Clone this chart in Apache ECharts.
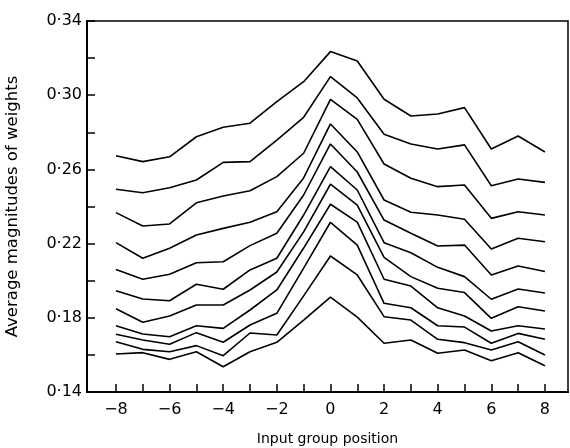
<!DOCTYPE html>
<html>
<head>
<meta charset="utf-8">
<script src="https://cdn.jsdelivr.net/npm/echarts@6/dist/echarts.min.js"></script>
<style>
html,body{margin:0;padding:0;background:#fff;}
#chart{width:570px;height:448px;}
</style>
</head>
<body>
<div id="chart"></div>
<script>
// Input group positions
var positions = [-8,-7,-6,-5,-4,-3,-2,-1,0,1,2,3,4,5,6,7,8];
// Even positions carry a label, every position carries a tick
var xTickValues = [-8,-7,-6,-5,-4,-3,-2,-1,0,1,2,3,4,5,6,7,8];
var xLabelValues = [-8,-6,-4,-2,0,2,4,6,8];
var yLabelValues = [0.14,0.18,0.22,0.26,0.30,0.34];

// Average magnitudes of weights, one curve per line (top to bottom)
var curve1  = [0.2674,0.2642,0.2668,0.2776,0.2827,0.2849,0.2965,0.3073,0.3235,0.3184,0.2978,0.2888,0.2899,0.2933,0.2710,0.2780,0.2694];
var curve2  = [0.2493,0.2474,0.2501,0.2543,0.2638,0.2642,0.2758,0.2881,0.3100,0.2985,0.2789,0.2737,0.2710,0.2732,0.2512,0.2548,0.2530];
var curve3  = [0.2367,0.2295,0.2306,0.2420,0.2457,0.2485,0.2561,0.2687,0.2978,0.2870,0.2629,0.2552,0.2507,0.2516,0.2336,0.2372,0.2354];
var curve4  = [0.2205,0.2121,0.2175,0.2246,0.2282,0.2315,0.2372,0.2554,0.2845,0.2694,0.2435,0.2369,0.2354,0.2331,0.2171,0.2229,0.2210];
var curve5  = [0.2061,0.2008,0.2035,0.2097,0.2102,0.2189,0.2256,0.2462,0.2737,0.2586,0.2327,0.2256,0.2187,0.2192,0.2031,0.2079,0.2050];
var curve6  = [0.1946,0.1901,0.1892,0.1981,0.1954,0.2058,0.2121,0.2354,0.2615,0.2489,0.2205,0.2151,0.2072,0.2022,0.1900,0.1955,0.1934];
var curve7  = [0.1849,0.1776,0.1810,0.1869,0.1869,0.1950,0.2047,0.2263,0.2520,0.2408,0.2126,0.2022,0.1959,0.1936,0.1797,0.1860,0.1837];
var curve8  = [0.1757,0.1713,0.1698,0.1757,0.1743,0.1842,0.1950,0.2176,0.2412,0.2316,0.2008,0.1971,0.1854,0.1810,0.1729,0.1757,0.1740];
var curve9  = [0.1711,0.1680,0.1657,0.1720,0.1668,0.1761,0.1824,0.2068,0.2315,0.2192,0.1878,0.1854,0.1757,0.1750,0.1663,0.1716,0.1684];
var curve10 = [0.1671,0.1630,0.1617,0.1650,0.1596,0.1718,0.1707,0.1918,0.2133,0.2031,0.1806,0.1788,0.1684,0.1666,0.1626,0.1671,0.1599];
var curve11 = [0.1605,0.1612,0.1576,0.1617,0.1536,0.1617,0.1668,0.1788,0.1911,0.1804,0.1663,0.1680,0.1609,0.1626,0.1569,0.1612,0.1542];

var curves = [curve1,curve2,curve3,curve4,curve5,curve6,curve7,curve8,curve9,curve10,curve11];

var FONT = '"DejaVu Sans", "Liberation Sans", sans-serif';

var series = curves.map(function (c) {
  return {
    type: 'line',
    data: positions.map(function (p, i) { return [p, c[i]]; }),
    showSymbol: false,
    symbol: 'none',
    lineStyle: { color: '#000', width: 1.6 },
    silent: true
  };
});

var chart = echarts.init(document.getElementById('chart'), null, { renderer: 'canvas' });
chart.setOption({
  animation: false,
  backgroundColor: '#fff',
  grid: {
    left: 87, top: 21, right: 2, bottom: 56,
    containLabel: false,
    outerBoundsMode: 'none',
    show: true, borderColor: '#000', borderWidth: 1.5, backgroundColor: 'transparent'
  },
  xAxis: {
    type: 'value',
    min: -9.08, max: 8.86,
    name: 'Input group position',
    nameLocation: 'middle',
    nameGap: 40,
    nameTextStyle: { color: '#000', fontSize: 14, fontFamily: FONT },
    axisLine: { show: true, onZero: false, lineStyle: { color: '#000', width: 2 } },
    axisTick: { show: true, inside: true, length: 8, customValues: xTickValues, lineStyle: { color: '#000', width: 1.5 } },
    axisLabel: {
      customValues: xLabelValues, color: '#000', fontSize: 16, fontFamily: FONT, margin: 10,
      formatter: function (v) { return v < 0 ? '\u2212' + Math.abs(v) : String(v); }
    },
    splitLine: { show: false }
  },
  yAxis: {
    type: 'value',
    min: 0.14, max: 0.34, interval: 0.02,
    name: 'Average magnitudes of weights',
    nameLocation: 'middle',
    nameGap: 66,
    nameRotate: 90,
    nameTextStyle: { color: '#000', fontSize: 16.5, fontFamily: FONT },
    axisLine: { show: true, onZero: false, lineStyle: { color: '#000', width: 2 } },
    axisTick: { show: true, inside: true, length: 8, lineStyle: { color: '#000', width: 1.5 } },
    axisLabel: {
      customValues: yLabelValues, color: '#000', fontSize: 16, fontFamily: FONT, margin: 5,
      formatter: function (v) { return v.toFixed(2).replace('.', '\u00b7'); }
    },
    splitLine: { show: false }
  },
  series: series
});
</script>
</body>
</html>
